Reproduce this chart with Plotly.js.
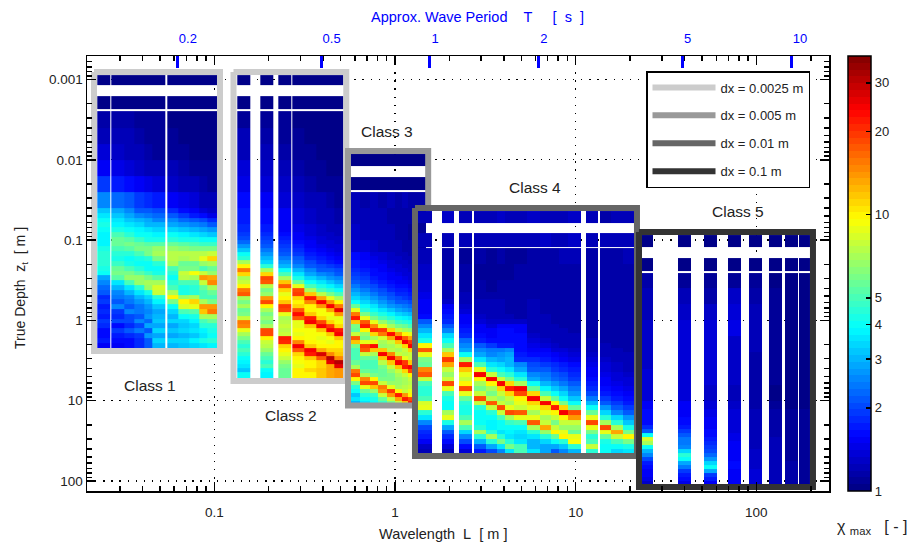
<!DOCTYPE html>
<html><head><meta charset="utf-8">
<script src="https://cdn.plot.ly/plotly-3.0.1.min.js"></script>
<style>html,body{margin:0;padding:0;background:#fff}</style></head>
<body><div id="chart" style="width:910px;height:545px"></div>
<script>
const _=null;
function bins(a,b,s){const o=[];for(let i=0;a+i*s<=b+1e-9;i++)o.push(+(a+i*s).toFixed(3));return o;}

// Wavelength bin edges (log10 m), depth bin edges (log10 m), chi_max values per wavelength column (null = no data)
const class1LogL=[-1.6475,-1.5772,-1.5678,-1.4958,-1.4427,-1.389,-1.3448,-1.2728,-1.2618,-1.2009,-1.1384,-1.083,-1.0387,-.9851];
const class1LogZ=[-3.055,-2.93,-2.794,-2.633,-2.608,-2.4,-2.2,-2,-1.8,-1.6,-1.4].concat(bins(-1.34,.34,.06));
const class1Cols=[
[1.02,_,1.02,_,1.15,1.2,1.35,1.5,1.9,2.6,3.2,3.5,3.9,4.3,3.9,3.7,3.7,3.8,4.2,4.5,4.6,4.6,4.3,3.9,2.9,2.5,2.3,2.2,1.8,1.9,1.7,1.8,1.7,1.9,1.8,1.6,1.6,1.7,1.5],
_,
[1.02,_,1.02,_,1.15,1.2,1.3,1.45,1.75,2.3,2.8,3.2,3.5,3.8,4.2,4.9,5.5,5.6,5,4.4,4.2,4.8,5.5,5.8,5.2,3.5,3,2.6,2.4,2.2,2.5,1.9,1.8,2,1.6,1.9,1.7,1.6,1.5],
[1.02,_,1.02,_,1.15,1.2,1.25,1.4,1.6,2.1,2.5,2.9,3.2,3.6,3.9,4.4,5.2,5.8,5.4,4.6,4.1,4.2,5,5.9,6.5,5,3.5,3,2.6,2.4,2.2,2.6,2,2,1.8,2.1,1.8,1.6,1.6],
[1.02,_,1.02,_,1.1,1.15,1.2,1.3,1.5,1.9,2.2,2.6,3,3.3,3.7,4,4.8,5.6,6,5,4.2,4,4.4,5.4,6.5,6.8,4.6,3.5,3,2.7,2.4,2.4,2.1,2.6,2,2.4,1.9,1.8,1.8],
[1.02,_,1.02,_,1.1,1.1,1.15,1.25,1.45,1.8,2.1,2.4,2.8,3.1,3.5,3.9,4.3,5.2,6,6,4.6,4,4,4.8,6,7,6.5,4.2,3.4,3,2.7,2.5,2.7,2.3,2.8,2.2,2.7,2.1,2.1],
[1.02,_,1.02,_,1.1,1.1,1.1,1.2,1.4,1.7,2,2.3,2.6,3,3.3,3.7,4.2,5.2,6.5,7,6,4.6,4,4.3,5.4,7,8.5,8,4.6,3.8,3.2,2.9,3,3.2,2.8,3.3,2.9,3.4,3],
_,
[1.02,_,1.02,_,1.05,1.1,1.1,1.2,1.3,1.55,1.8,2.1,2.5,2.9,3.4,3.9,4.5,5.5,6.5,7.5,7.5,7,5,4.5,4,4.4,5,7,10,6,4,3.3,3,3.4,2.9,3.2,2.8,3.3,3],
[1.02,_,1.02,_,1.05,1.05,1.1,1.15,1.25,1.45,1.6,1.9,2.3,2.7,3.2,3.7,4.3,5.2,6.2,7.5,7,5.5,6,8,7.5,5,4.2,4.3,6.5,10,8.5,5,3.9,3.4,3.2,3.4,3,3.4,3.2],
[1.02,_,1.02,_,1.05,1.05,1.05,1.1,1.2,1.35,1.5,1.75,2.1,2.6,3.1,3.6,4.2,5,6,7.5,7.5,5.5,6,9.5,7,5,4.4,4.6,7,11,9,5.2,4.2,3.8,3.4,3.6,3.2,3.8,3.4],
[1.02,_,1.02,_,1.05,1.05,1.05,1.1,1.15,1.25,1.4,1.6,2,2.4,2.9,3.4,4,4.8,5.8,7.5,9,6.5,5,8,14,8,5.5,5,5,7,14,12,7,5,4.4,3.8,3.6,4.2,3.6],
[1.02,_,1.02,_,1.05,1.05,1.05,1.1,1.1,1.2,1.3,1.45,1.8,2.2,2.7,3.2,3.9,4.8,6,8,11,7,5.5,6.5,13,15,7,5.5,5,6,14,16,7,5.5,4.6,4.2,4,4.4,3.8]
];

const class2LogL=[-.8727,-.7986,-.7454,-.6735,-.6458,-.5739,-.5661,-.5036,-.4372,-.3818,-.3376,-.2861];
const class2LogZ=[-3.055,-2.93,-2.794,-2.633,-2.608,-2.4,-2.2,-2,-1.8,-1.6,-1.4,-1.2,-1.1].concat(bins(-1.05,.65,.05),[.72]);
const class2Cols=[
[1.02,_,1.02,_,1.1,1.2,1.25,1.35,1.45,1.6,1.75,1.85,1.9,2,2.3,2.7,3.2,3.9,4.4,7,10,16,11,7,8,10,16,17,7,6,7,5.5,6,8,16,15,9,7,6,5,4.6,5,4.4,4,3.8,3.6,3.2,3.9],
_,
[1.02,_,1.02,_,1.1,1.15,1.2,1.3,1.4,1.5,1.6,1.7,1.8,1.9,2,2.2,2.4,2.7,3,3.4,4.5,7,11,18,17,7.5,6,6.5,14,18,10,7,6,6.5,6,7,18,19,10,8,7.5,6.5,5.5,5,4.6,5,4,3.7],
_,
[1.02,_,1.02,_,1.1,1.1,1.15,1.2,1.3,1.4,1.5,1.55,1.6,1.7,1.8,1.9,2,2.2,2.4,2.7,3.1,3.9,5,7,12,17,11,9,10,12,20,19,9,7,7.5,8,7.5,8,22,21,11,10,9,8,6.5,6,5.5,5.5],
_,
[1.02,_,1.02,_,1.05,1.1,1.1,1.15,1.2,1.3,1.4,1.45,1.5,1.55,1.6,1.7,1.8,1.9,2.1,2.3,2.6,3,3.6,4.3,5.5,9,19,20,11,10,11,17,23,17,9,9,9.5,9,10,15,24,17,11,10,9.5,9,10,10],
[1.02,_,1.02,_,1.05,1.05,1.1,1.1,1.15,1.25,1.3,1.35,1.4,1.45,1.5,1.55,1.6,1.7,1.8,2,2.2,2.5,2.9,3.4,4,5,7,12,22,15,10,10,12,22,24,12,9.5,9.5,9.5,10,12,24,22,12,10,10,11,10],
[1.02,_,1.02,_,1.05,1.05,1.05,1.1,1.1,1.2,1.25,1.3,1.3,1.35,1.4,1.45,1.5,1.6,1.7,1.8,2,2.2,2.6,3,3.5,4.2,5,7.5,13,24,14,9.5,9.5,11,19,24,12,9.5,9,9.5,10,13,28,17,11,11,12,12],
[1.02,_,1.02,_,1.05,1.05,1.05,1.05,1.1,1.15,1.2,1.25,1.3,1.3,1.35,1.4,1.45,1.5,1.6,1.7,1.9,2.1,2.4,2.7,3.2,3.8,4.5,6,9,14,24,13,9.5,9,11,20,25,12,9.5,9,10,11,15,30,26,13,13,13],
[1.02,_,1.02,_,1.02,1.05,1.05,1.05,1.1,1.1,1.15,1.2,1.25,1.3,1.3,1.35,1.4,1.45,1.5,1.6,1.8,2,2.2,2.5,2.9,3.4,4,5,7,10,16,26,14,9,9.5,11,22,24,12,10,10,11,12,15,31,26,14,14]
];

const class3LogL=[-.2435,-.1937,-.1384,-.0941,-.0443,0,.0387,.0747,.1217,.1715];
const class3LogZ=[-2.072,-1.922,-1.785,-1.624,-1.605,-1.4,-1.2,-1,-.85].concat(bins(-.8,1,.05),[1.03]);
const class3Cols=[
[1.03,_,1.03,_,1.25,1.25,1.3,1.4,1.6,1.65,1.7,1.75,1.8,1.9,2,2.2,2.4,2.7,3,3.4,4,5.5,9,16,22,12,6,5.5,8,17,12,6,5,5,5,5.5,7,16,18,10,6,4.6,4,3.2,3.5,3],
[1.03,_,1.03,_,1.15,1.25,1.25,1.35,1.5,1.55,1.6,1.65,1.7,1.8,1.9,2,2.2,2.4,2.7,3,3.4,3.9,4.5,6,9,17,22,10,6.5,6,9,20,17,8,5.5,5,5,5.5,7,15,18,9,5.5,4.4,4,3.5],
[1.03,_,1.03,_,1.25,1.2,1.2,1.3,1.4,1.45,1.5,1.55,1.6,1.65,1.75,1.85,2,2.2,2.4,2.7,3.1,3.5,4,4.8,6,9,15,21,11,7,9,23,12,7,5.5,5,5,5.3,6,10,19,12,6.5,4.8,4.2,4],
[1.03,_,1.03,_,1.12,1.2,1.2,1.25,1.35,1.4,1.45,1.5,1.55,1.6,1.65,1.75,1.85,2,2.2,2.4,2.7,3.1,3.6,4.2,5,6.5,9,20,16,8.5,7,6.5,12,24,12,7.5,6,5.5,5.5,6,8,16,14,8,5.5,4.8],
[1.03,_,1.03,_,1.25,1.15,1.2,1.2,1.3,1.3,1.35,1.4,1.45,1.5,1.55,1.65,1.75,1.85,2,2.2,2.4,2.7,3.2,3.7,4.4,5.5,7,11,23,13,8,7,7.5,15,24,12,8,6.5,6,6,6.5,9,20,14,8,6],
[1.03,_,1.03,_,1.12,1.15,1.15,1.2,1.25,1.3,1.3,1.35,1.4,1.45,1.5,1.55,1.65,1.75,1.85,2,2.2,2.5,2.9,3.4,4,4.8,6,8,14,24,12,8,7,8,16,24,12,8,7,6.5,6.5,7,10,22,13,8],
[1.03,_,1.03,_,1.2,1.12,1.15,1.15,1.2,1.25,1.3,1.3,1.35,1.4,1.45,1.5,1.6,1.7,1.8,1.9,2.1,2.4,2.7,3.2,3.7,4.4,5.5,7,10,17,24,11,8,7.5,9,20,22,11,8,7,7,7.5,8,14,22,12],
[1.03,_,1.03,_,1.12,1.12,1.1,1.15,1.15,1.2,1.25,1.3,1.3,1.35,1.4,1.45,1.55,1.65,1.75,1.85,2,2.3,2.6,3,3.5,4.2,5,6.5,9,13,20,24,11,8,8,12,25,18,10,8,7.5,8,9,10,18,22],
[1.03,_,1.03,_,1.12,1.1,1.1,1.15,1.15,1.2,1.2]
];

const class4LogL=[.1273,.2048,.2601,.3265,.3542,.4261,.4372,.5036,.5645,.6087,.6586,.7305,.8024,.8633,.9076,.9574,1.0293,1.057,1.1234,1.1345,1.1953,1.2617,1.3226];
const class4LogZ=[-1.362,-1.214,-1.085,-.918,-.899,-.7,-.5,-.35,-.26].concat(bins(-.2,1.66,.06));
const class4Cols=[
[1.2,_,1.2,_,1.25,1.3,1.4,1.45,1.5,1.5,1.5,1.6,2.2,2.6,3,3.5,4.2,10,17,9,6,5.5,15,17,8,5,4.4,4.4,5,8.5,9,4.5,3.5,2.6,2,1.8,1.7,1.5,1.3,1.2],
_,
[1.3,_,1.25,_,1.15,1.15,1.2,1.25,1.3,1.5,1.6,1.7,1.8,2.2,2.6,3.4,4,5,7,12,20,13,8,6.5,8,18,9,5,4.2,3.9,4,7,9,4.2,2.8,2.2,1.8,1.6,1.4,1.25],
_,
[1.2,_,1.2,_,1.1,1.15,1.15,1.2,1.25,1.3,1.4,1.5,1.55,1.6,1.7,1.8,2.3,2.6,2.8,3.9,7,22,12,9,8,10,19,9,5.5,4.6,4.2,4.2,5,7,5,3.4,2.6,2,1.6,1.4],
_,
[1.25,_,1.25,_,1.15,1.1,1.15,1.15,1.2,1.2,1.25,1.3,1.4,1.5,1.55,1.6,1.7,2.2,2.6,2.9,3.6,5,9,24,10,7,6,8,18,8,4.6,3.9,3.9,3.9,4.6,7,4.6,3,2.2,1.7],
[1.25,_,1.2,_,1.1,1.1,1.1,1.15,1.2,1.2,1.2,1.25,1.3,1.4,1.5,1.55,1.6,1.9,2.4,2.6,3,3.5,4.6,8,24,10,7,6,7.5,17,8,4.6,3.9,3.8,3.8,4.4,7,4.5,2.8,2],
[1.3,_,1.25,_,1.12,1.1,1.15,1.15,1.2,1.2,1.2,1.2,1.3,1.55,1.6,1.6,1.6,1.7,2.4,2.7,2.8,3.3,3.9,5,8,24,11,8,6.5,8,18,8,5,3.9,3.9,3.5,4.5,6,3.6,2.5],
[1.2,_,1.2,_,1.1,1.1,1.15,1.15,1.15,1.15,1.15,1.2,1.3,1.5,1.6,1.6,1.6,1.7,2.5,2.9,3,3,3.5,4.5,6,11,22,11,8,7,9,18,7,4.8,3.9,3.7,3.5,4.5,6,3.5],
[1.25,_,1.25,_,1.1,1.12,1.15,1.15,1.15,1.15,1.15,1.15,1.3,1.5,1.55,1.6,1.6,1.6,1.65,1.7,1.8,2.5,2.9,3.5,4.5,7,24,18,10,9,8,17,9,5,3.9,3.5,3.4,3.6,5,5],
[1.3,_,1.2,_,1.15,1.12,1.15,1.15,1.2,1.2,1.2,1.2,1.2,1.2,1.25,1.3,1.4,1.45,1.5,1.6,1.8,2,2.2,2.5,2.9,3.9,5.5,11,24,11,9,7,9,17,7,4.6,3.6,3,3,3.6],
[1.2,_,1.3,_,1.18,1.15,1.15,1.15,1.15,1.15,1.15,1.2,1.2,1.2,1.25,1.25,1.3,1.4,1.5,1.6,1.7,1.9,2.2,2.4,2.6,3,3.7,5,8,24,11,9,7,8,13,6.5,4.5,3.4,2.8,2.8],
[1.25,_,1.25,_,1.12,1.15,1.15,1.15,1.15,1.15,1.15,1.15,1.15,1.2,1.2,1.25,1.25,1.3,1.4,1.5,1.6,1.8,1.9,2.1,2.3,2.7,3.2,3.9,5.5,10,22,10,8,6,8,10,5.5,3.9,2.8,2.2],
[1.25,_,1.2,_,1.2,1.15,1.15,1.15,1.15,1.15,1.15,1.15,1.15,1.15,1.2,1.2,1.25,1.25,1.35,1.45,1.55,1.7,1.8,2,2.1,2.4,2.9,3.3,3.9,6,11,24,10,8,6.5,9,10,4.5,3.2,2.5],
[1.3,_,1.3,_,1.25,1.15,1.15,1.15,1.15,1.15,1.15,1.15,1.15,1.15,1.15,1.2,1.2,1.25,1.3,1.4,1.45,1.6,1.7,1.8,1.9,2.1,2.4,2.7,3.2,3.9,5.5,19,14,8,6.5,5.5,9,9.5,4.5,3],
_,
[1.2,_,1.2,_,1.15,1.15,1.15,1.15,1.15,1.15,1.15,1.15,1.15,1.15,1.15,1.15,1.2,1.2,1.25,1.3,1.35,1.45,1.5,1.55,1.6,1.7,1.8,2,2.4,3,3.9,5.5,9,19,9,6,4.6,5,8,4.4],
_,
[1.15,_,1.2,_,1.15,1.15,1.15,1.15,1.15,1.15,1.15,1.15,1.15,1.15,1.15,1.15,1.15,1.2,1.2,1.25,1.3,1.35,1.4,1.45,1.5,1.55,1.6,1.7,1.9,2.2,2.7,3.3,4.5,7,18,9,5.5,4.2,3.9,4],
[1.2,_,1.25,_,1.15,1.15,1.15,1.15,1.15,1.15,1.15,1.15,1.15,1.15,1.15,1.15,1.15,1.15,1.2,1.2,1.25,1.3,1.3,1.35,1.4,1.45,1.5,1.6,1.7,1.9,2.2,2.6,3.3,4.4,7,13,8,5,3.9,3.4],
[1.25,_,1.2,_,1.2,1.15,1.15,1.15,1.15,1.15,1.15,1.15,1.15,1.15,1.15,1.15,1.15,1.15,1.15,1.2,1.2,1.25,1.25,1.3,1.35,1.4,1.45,1.5,1.6,1.7,1.9,2.2,2.7,3.2,4.2,6,10,6,4.2,3.5]
];

const class5LogL=[1.3669,1.4278,1.5645,1.6364,1.7084,1.7803,1.8428,1.9148,1.959,2.031,2.0681,2.14,2.1566,2.2285,2.2357,2.2983];
const class5LogZ=[-1.063,-.914,-.777,-.615,-.594,-.4,-.2,0,.2,.4,.6,.8,1,1.1,1.2,1.3,1.35,1.4,1.45,1.5,1.55,1.6,1.65,1.7,1.75,1.8,1.85,1.9,1.95,2,2.045];
const class5Cols=[
[1.03,_,1.03,_,1.15,1.2,1.25,1.3,1.3,1.3,1.35,1.4,1.55,1.6,1.65,1.8,2.2,4,8.5,7,4,3,2.5,2,1.7,1.6,1.55,1.5,1.45,1.3],
_,
[1.03,_,1.03,_,1.1,1.2,1.3,1.4,1.4,1.4,1.35,1.35,1.5,1.5,1.6,1.7,1.9,2.2,2.4,2.4,2.5,3.3,4.4,4,2.9,2.4,1.9,1.7,1.6,1.45],
_,
[1.03,_,1.03,_,1.1,1.15,1.3,1.4,1.35,1.35,1.35,1.3,1.4,1.45,1.5,1.55,1.6,1.65,1.7,1.8,1.9,2,2.3,2.7,3.4,3.9,2.8,1.9,1.7,1.5],
_,
[1.03,_,1.03,_,1.1,1.3,1.4,1.45,1.3,1.3,1.3,1.25,1.3,1.35,1.35,1.4,1.4,1.45,1.45,1.5,1.5,1.5,1.55,1.55,1.6,1.6,1.55,1.5,1.5,1.5],
_,
[1.03,_,1.03,_,1.1,1.15,1.2,1.2,1.2,1.15,1.15,1.15,1.15,1.2,1.2,1.2,1.25,1.25,1.25,1.25,1.25,1.3,1.3,1.3,1.3,1.3,1.35,1.35,1.35,1.35],
_,
[1.03,_,1.03,_,1.05,1.1,1.1,1.1,1.1,1.1,1.1,1.05,1.1,1.15,1.15,1.15,1.15,1.15,1.2,1.2,1.2,1.2,1.2,1.2,1.2,1.25,1.25,1.25,1.25,1.25],
_,
[1.03,_,1.03,_,1.05,1.05,1.05,1.05,1.05,1.05,1.05,1.05,1.05,1.1,1.1,1.1,1.1,1.1,1.1,1.1,1.1,1.1,1.1,1.1,1.15,1.15,1.15,1.15,1.15,1.15],
_,
[1.03,_,1.03,_,1.05,1.05,1.05,1.05,1.05,1.05,1.05,1.05,1.05,1.1,1.1,1.1,1.1,1.1,1.1,1.1,1.1,1.1,1.1,1.1,1.1,1.1,1.1,1.1,1.1,1.1]
];

// Class outlines in log10 wavelength / log10 depth; class 3 stops where class 4 covers it
const frame1LogL=[-1.6658,-.9685,-.9685,-1.6658,-1.6658], frame1LogZ=[-3.0934,-3.0934,.381,.381,-3.0934];
const frame2LogL=[-.8937,-.2695,-.2695,-.8937,-.8937], frame2LogZ=[-3.0934,-3.0934,.7547,.7547,-3.0934];
const frame3LogL=[.1837,.1837,-.2601,-.2601,.0941], frame3LogZ=[-1.4,-2.1096,-2.1096,1.0598,1.0598];
const frame4LogL=[.1107,1.3393,1.3393,.1107,.1107], frame4LogZ=[-1.3998,-1.3998,1.6887,1.6887,-1.3998];
const frame5LogL=[1.3504,2.3133,2.3133,1.3504,1.3504], frame5LogZ=[-1.1009,-1.1009,2.0747,2.0747,-1.1009];

const dxNames=['dx = 0.0025 m','dx = 0.005 m','dx = 0.01 m','dx = 0.1 m'];
const dxColors=['#cccccc','#999999','#666666','#333333'];
const periodTicksL=[0.0624,0.39,1.56,6.24,39,156];
const periodLabels=['0.2','0.5','1','2','5','10'];
const chiTicks=[1,2,3,4,5,10,20,30];
const classLabels=['Class 1','Class 2','Class 3','Class 4','Class 5'];
const chiMax=37.5;

const pow=a=>a.map(v=>Math.pow(10,v));
function heat(logL,logZ,cols){
  const nr=logZ.length-1;
  const z=[];
  for(let r=0;r<nr;r++){
    z.push(cols.map(c=>{const v=c?c[r]:null;return (v===null||v===undefined)?null:Math.log10(v);}));
  }
  return {type:'heatmap',x:pow(logL),y:pow(logZ),z:z,coloraxis:'coloraxis',zsmooth:false,hoverongaps:false,showlegend:false};
}
function frame(lx,lz,i,show){
  return {type:'scatter',mode:'lines',x:pow(lx),y:pow(lz),name:dxNames[i],legendgroup:'g'+i,showlegend:show,
    line:{color:dxColors[i],width:6},hoverinfo:'skip'};
}
const jetA=[[0,[0,0,128]],[.125,[0,0,255]],[.375,[0,255,255]],[.625,[255,255,0]],[.875,[255,0,0]],[1,[128,0,0]]];
function jet(t){for(let i=1;i<jetA.length;i++){if(t<=jetA[i][0]){const a=jetA[i-1],b=jetA[i],f=(t-a[0])/(b[0]-a[0]);
  return 'rgb('+a[1].map((v,k)=>Math.round(v+(b[1][k]-v)*f)).join(',')+')';}}return 'rgb(128,0,0)';}
const jetScale=[];for(let i=0;i<64;i++){const c=jet((i+.5)/64);jetScale.push([i/64,c],[(i+1)/64,c]);}
const minorOf=d=>{const o=[];d.forEach(p=>[2,3,4,5,6,7,8,9].forEach(m=>o.push(+(m*Math.pow(10,p)).toPrecision(3))));return o;};

const data=[
 heat(class1LogL,class1LogZ,class1Cols),heat(class2LogL,class2LogZ,class2Cols),heat(class3LogL,class3LogZ,class3Cols),
 heat(class4LogL,class4LogZ,class4Cols),heat(class5LogL,class5LogZ,class5Cols),
 frame(frame1LogL,frame1LogZ,0,true),frame(frame2LogL,frame2LogZ,0,false),frame(frame3LogL,frame3LogZ,1,true),
 frame(frame4LogL,frame4LogZ,2,true),frame(frame5LogL,frame5LogZ,3,true),
 {type:'scatter',mode:'markers',xaxis:'x2',yaxis:'y',x:periodTicksL,y:periodTicksL.map(()=>1),marker:{opacity:0,size:1},showlegend:false,hoverinfo:'skip'}
];
const F='"Liberation Sans",Arial,sans-serif';
const nb='\u00A0';
const axisCommon={type:'log',showline:true,linecolor:'#000',linewidth:1.5,mirror:'ticks',ticks:'inside',ticklen:9,tickwidth:1.5,tickcolor:'#000',
  showgrid:true,gridcolor:'#000',gridwidth:1.3,griddash:'1.3px,6.8px',tickmode:'array',tickfont:{size:13.5,color:'#222',family:F},automargin:false};
const px2=(x,y)=>({x:(x-87)/742,y:1-(y-56)/435});
const labelPos=[[150,385],[291,415],[387,131],[535,187],[738,211]];
const note=(t,x,y,size,color,angle)=>Object.assign({text:t,xref:'paper',yref:'paper',showarrow:false,xanchor:'center',yanchor:'middle',
  font:{size:size,color:color||'#222'},textangle:angle||0},px2(x,y));
const layout={
 width:910,height:545,margin:{l:87,r:81,t:56,b:54},paper_bgcolor:'#fff',plot_bgcolor:'#fff',font:{family:F,size:13,color:'#222'},
 xaxis:Object.assign({},axisCommon,{range:[-1.7045,2.402],tickvals:[.1,1,10,100],ticktext:['0.1','1','10','100'],ticklabelstandoff:8,
   minor:{ticks:'inside',ticklen:5,tickwidth:1.5,tickcolor:'#000',tickmode:'array',tickvals:minorOf([-2,-1,0,1,2]),showgrid:false}}),
 yaxis:Object.assign({},axisCommon,{range:[2.125,-3.293],tickvals:[.001,.01,.1,1,10,100],ticktext:['0.001','0.01','0.1','1','10','100'],
   minor:{ticks:'inside',ticklen:5,tickwidth:1.5,tickcolor:'#000',tickmode:'array',tickvals:minorOf([-4,-3,-2,-1,0,1,2]),showgrid:false}}),
 xaxis2:{type:'log',overlaying:'x',side:'top',anchor:'y',range:[-1.7045,2.402],tickmode:'array',tickvals:periodTicksL,ticktext:periodLabels,
   ticks:'inside',ticklen:12,tickwidth:3,tickcolor:'#0000ff',showgrid:false,showline:false,ticklabelstandoff:9,ticklabelposition:'outside right',
   tickfont:{size:13,color:'#0000ff',family:F},automargin:false},
 coloraxis:{cmin:0,cmax:Math.log10(chiMax),colorscale:jetScale,showscale:true,
   colorbar:{thickness:23,thicknessmode:'pixels',len:435,lenmode:'pixels',x:(848-87)/742,xanchor:'left',xpad:0,y:1,yanchor:'top',ypad:0,
     outlinecolor:'#000',outlinewidth:1.5,ticks:'inside',ticklen:5,tickwidth:1.5,tickcolor:'#000',tickmode:'array',
     tickvals:chiTicks.map(v=>Math.log10(v)),ticktext:chiTicks.map(String),tickfont:{size:13,color:'#222',family:F},bgcolor:'rgba(0,0,0,0)',borderwidth:0}},
 legend:{x:(646-87)/742,y:1-(71-56)/435,xanchor:'left',yanchor:'top',bgcolor:'#fff',bordercolor:'#000',borderwidth:1.5,itemwidth:63,tracegroupgap:8,
   font:{size:13,color:'#222',family:F},traceorder:'grouped',itemclick:false,itemdoubleclick:false},
 shapes:chiTicks.slice(1).map(v=>({type:'line',xref:'paper',yref:'paper',x0:(848-87)/742,x1:(853-87)/742,y0:Math.log10(v)/Math.log10(chiMax),y1:Math.log10(v)/Math.log10(chiMax),line:{color:'#000',width:1.5}})),
 annotations:classLabels.map((t,i)=>note(t,labelPos[i][0],labelPos[i][1],15.5)).concat([
   note('\u03C7 <sub>max</sub>'+nb+nb+nb+'[ - ]',872,527,16),
   note('Wavelength'+nb+nb+'L'+nb+nb+'[ m ]',443,534,14.5),
   note('True Depth'+nb+nb+'z<sub>t</sub>'+nb+nb+'[ m ]',21,288,14,'#222',-90),
   note('Approx. Wave Period'+nb.repeat(4)+'T'+nb.repeat(5)+'['+nb+nb+'s'+nb+nb+']',477.5,17,14.5,'#0000ff')
 ])
};
Plotly.newPlot('chart',data,layout,{displayModeBar:false,staticPlot:true});
</script></body></html>
